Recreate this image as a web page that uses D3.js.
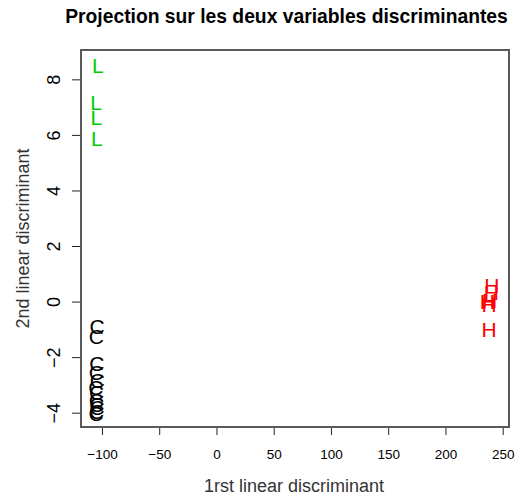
<!DOCTYPE html>
<html>
<head>
<meta charset="utf-8">
<script src="https://cdn.jsdelivr.net/npm/d3@7"></script>
<style>
  body { margin: 0; background: #fff; }
  text { font-family: "Liberation Sans", Arial, sans-serif; }
</style>
</head>
<body>
<script>
// group labels (letter drawn at each point)
let groupL = { label: "L", color: "#00cc00",
  x: [-103.5, -105.2, -105.0, -104.4],
  y: [8.51, 7.18, 6.64, 5.88] };
let groupC = { label: "C", color: "#000000",
  x: [-104.2, -105.0, -104.4, -104.8, -104.0, -105.3, -104.6, -104.9, -104.3, -105.1, -104.5, -104.7],
  y: [-0.89, -1.25, -2.22, -2.55, -2.84, -3.09, -3.27, -3.55, -3.80, -4.02, -3.70, -3.95] };
let groupH = { label: "H", color: "#ff0000",
  x: [240.5, 240.0, 238.6, 238.1, 236.6, 238.1],
  y: [0.59, 0.34, 0.05, -0.10, 0.00, -1.00] };

let xTicks = [-100, -50, 0, 50, 100, 150, 200, 250];
let yTicks = [-4, -2, 0, 2, 4, 6, 8];

let W = 526, H = 496;
let box = { left: 81, right: 509, top: 50, bottom: 427 };

let x = d3.scaleLinear().domain([-118.3, 255.5]).range([box.left, box.right]);
let y = d3.scaleLinear().domain([-4.515, 9.056]).range([box.bottom, box.top]);

let svg = d3.select("body").append("svg")
  .attr("width", W)
  .attr("height", H);

// points as letters
[groupL, groupC, groupH].forEach(g => {
  svg.append("g")
    .selectAll("text")
    .data(g.x.map((v, i) => ({ x: v, y: g.y[i] })))
    .enter()
    .append("text")
    .attr("x", d => x(d.x))
    .attr("y", d => y(d.y))
    .attr("dy", "0.36em")
    .attr("text-anchor", "middle")
    .attr("font-size", 21)
    .attr("fill", g.color)
    .text(g.label);
});

// x axis
let xAxis = g =>
  g.attr("transform", `translate(0,${box.bottom})`)
    .call(d3.axisBottom(x).tickValues(xTicks).tickSize(8).tickPadding(14))
    .call(g => g.select(".domain").remove())
    .call(g => g.selectAll("line").attr("stroke", "#222"))
    .call(g => g.selectAll("text").attr("font-size", 13.5).attr("fill", "#000")
      .attr("font-family", "Liberation Sans, Arial, sans-serif"));

// y axis, labels rotated like R
let yAxis = g =>
  g.attr("transform", `translate(${box.left},0)`)
    .call(d3.axisLeft(y).tickValues(yTicks).tickSize(9).tickPadding(0))
    .call(g => g.select(".domain").remove())
    .call(g => g.selectAll("line").attr("stroke", "#222"))
    .call(g => g.selectAll("text")
      .attr("x", null).attr("dy", null)
      .attr("transform", "translate(-21,0) rotate(-90)")
      .attr("text-anchor", "middle")
      .attr("font-size", 18)
      .attr("fill", "#000")
      .attr("font-family", "Liberation Sans, Arial, sans-serif"));

svg.append("g").call(xAxis);
svg.append("g").call(yAxis);

// plot frame
svg.append("rect")
  .attr("x", box.left)
  .attr("y", box.top)
  .attr("width", box.right - box.left)
  .attr("height", box.bottom - box.top)
  .attr("fill", "none")
  .attr("stroke", "#5a5a5a")
  .attr("stroke-width", 2);

// titles
svg.append("text")
  .attr("x", 286.5)
  .attr("y", 23)
  .attr("text-anchor", "middle")
  .attr("font-size", 19.3)
  .attr("font-weight", "bold")
  .text("Projection sur les deux variables discriminantes");

svg.append("text")
  .attr("x", (box.left + box.right) / 2 - 1)
  .attr("y", 492)
  .attr("text-anchor", "middle")
  .attr("font-size", 18)
  .attr("fill", "#333")
  .text("1rst linear discriminant");

svg.append("text")
  .attr("transform", `translate(29,${(box.top + box.bottom) / 2}) rotate(-90)`)
  .attr("text-anchor", "middle")
  .attr("font-size", 18)
  .attr("fill", "#333")
  .text("2nd linear discriminant");
</script>
</body>
</html>
